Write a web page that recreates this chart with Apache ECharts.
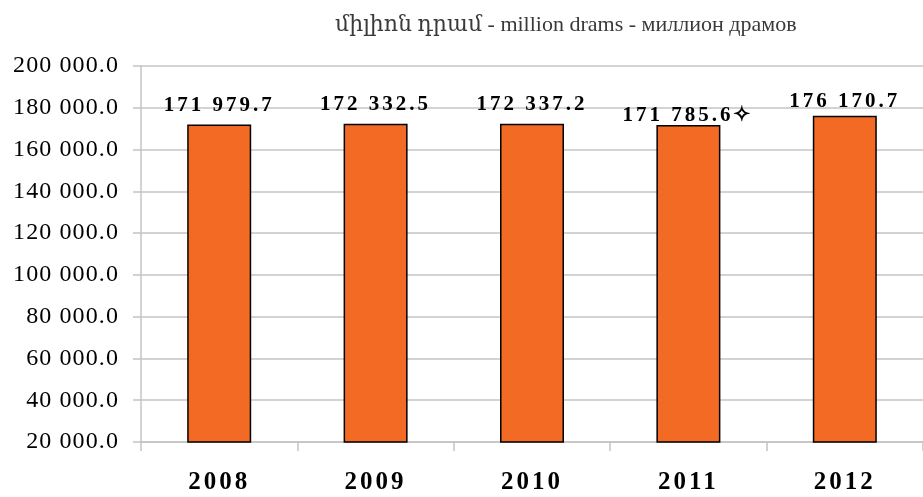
<!DOCTYPE html>
<html>
<head>
<meta charset="utf-8">
<script src="https://cdn.jsdelivr.net/npm/echarts@6/dist/echarts.min.js"></script>
<style>
html,body{margin:0;padding:0;background:#fff;}
#chart{width:923px;height:497px;}
</style>
</head>
<body>
<div id="chart"></div>
<script>
// ---- data ----
const categories = ['2008', '2009', '2010', '2011', '2012'];
const values = [171979.7, 172332.5, 172337.2, 171785.6, 176170.7];
const labelSuffix = ['', '', '', '✧', ''];
const yTicks = [20000, 40000, 60000, 80000, 100000, 120000, 140000, 160000, 180000, 200000];
const titleText = 'միլիոն դրամ - million drams - миллион драмов';

// letter spacing emulation (Canvas letterSpacing), keyed on font size
const spacingBySize = { '21px': '3px', '25px': '3px', '24px': '1.1px' };
(function () {
  const proto = CanvasRenderingContext2D.prototype;
  const origFill = proto.fillText, origMeasure = proto.measureText;
  function apply(ctx) {
    if (!('letterSpacing' in ctx)) return;
    const m = /(\d+px)/.exec(ctx.font || '');
    ctx.letterSpacing = (m && spacingBySize[m[1]]) || '0px';
  }
  proto.fillText = function () { apply(this); return origFill.apply(this, arguments); };
  proto.measureText = function () { apply(this); return origMeasure.apply(this, arguments); };
})();

function fmt(v) {
  const parts = v.toFixed(1).split('.');
  return parts[0].replace(/\B(?=(\d{3})+(?!\d))/g, ' ') + '.' + parts[1];
}

const labelOffsets = [[0, 0], [0, 0], [0, 0], [0, 10], [0, 5]];

const chart = echarts.init(document.getElementById('chart'), null, { renderer: 'canvas' });
chart.setOption({
  animation: false,
  backgroundColor: '#ffffff',
  title: {
    text: titleText,
    left: 330,
    top: 9,
    textStyle: { fontFamily: '"Liberation Serif", "DejaVu Serif"', fontSize: 22, fontWeight: 'normal', color: '#3a3a3a' }
  },
  grid: { left: 141, top: 66, width: 790, height: 376, containLabel: false },
  xAxis: {
    type: 'category',
    data: categories,
    axisLine: { lineStyle: { color: '#c4c4c4', width: 1.5 } },
    axisTick: { show: true, length: 9, alignWithLabel: false, lineStyle: { color: '#c4c4c4', width: 1.5 } },
    axisLabel: { margin: 27, fontFamily: 'Liberation Serif', fontWeight: 'bold', fontSize: 25, color: '#000' },
    splitLine: { show: false }
  },
  yAxis: {
    type: 'value',
    min: yTicks[0],
    max: yTicks[yTicks.length - 1],
    interval: yTicks[1] - yTicks[0],
    axisLine: { show: true, lineStyle: { color: '#c4c4c4', width: 1.5 } },
    axisTick: { show: true, length: 8, lineStyle: { color: '#c4c4c4', width: 1.5 } },
    axisLabel: { margin: 22, fontFamily: 'Liberation Serif', fontSize: 24, color: '#000', formatter: v => fmt(v) },
    splitLine: { show: true, lineStyle: { color: '#c4c4c4', width: 1.5 } }
  },
  series: [{
    type: 'bar',
    barWidth: 64,
    data: values.map((v, i) => ({
      value: v,
      label: { offset: labelOffsets[i] }
    })),
    itemStyle: { color: '#F26A24', borderColor: '#000', borderWidth: 1.5 },
    label: {
      show: true,
      position: 'top',
      distance: 7,
      fontFamily: 'Liberation Serif',
      fontWeight: 'bold',
      fontSize: 21,
      color: '#000',
      formatter: p => fmt(p.value) + labelSuffix[p.dataIndex]
    }
  }]
});
</script>
</body>
</html>
